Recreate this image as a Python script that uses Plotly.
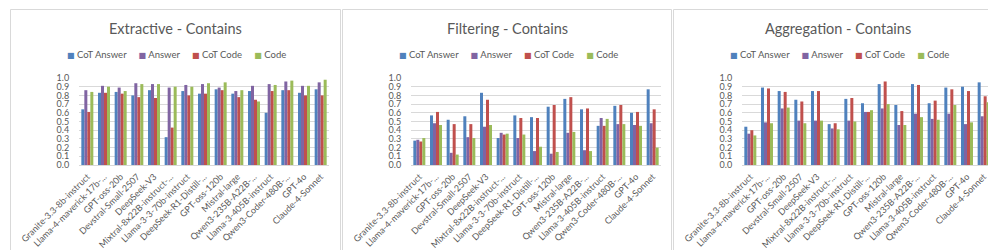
import plotly.graph_objects as go

categories = ["Granite-3.3-8b-instruct", "Llama-4-maverick-17b-...", "GPT-oss-20b",
              "Devstral-Small-2507", "DeepSeek-V3", "Mixtral-8x22B-instruct-...",
              "Llama-3-3-70b-instruct", "DeepSeek-R1-Distill-...", "GPT-oss-120b",
              "Mistral-large", "Qwen3-235B-A22B-...", "Llama-3-405B-instruct",
              "Qwen3-Coder-480B-...", "GPT-4o", "Claude-4-Sonnet"]

series_names = ["CoT Answer", "Answer", "CoT Code", "Code"]
series_colors = ["#4F81BD", "#8064A2", "#C0504D", "#9BBB59"]

panel_titles = ["Extractive - Contains", "Filtering - Contains", "Aggregation - Contains"]

extractive_cot_answer = [0.64, 0.83, 0.84, 0.80, 0.86, 0.32, 0.85, 0.82, 0.87, 0.82, 0.85, 0.60, 0.86, 0.83, 0.87]
extractive_answer     = [0.86, 0.91, 0.89, 0.94, 0.93, 0.89, 0.92, 0.93, 0.89, 0.85, 0.91, 0.93, 0.96, 0.91, 0.95]
extractive_cot_code   = [0.61, 0.83, 0.82, 0.78, 0.77, 0.43, 0.80, 0.82, 0.86, 0.78, 0.75, 0.85, 0.86, 0.80, 0.80]
extractive_code       = [0.84, 0.90, 0.85, 0.93, 0.93, 0.90, 0.90, 0.94, 0.95, 0.86, 0.73, 0.92, 0.97, 0.91, 0.98]

filtering_cot_answer = [0.28, 0.57, 0.52, 0.56, 0.83, 0.31, 0.57, 0.55, 0.67, 0.76, 0.64, 0.45, 0.68, 0.60, 0.87]
filtering_answer     = [0.29, 0.48, 0.14, 0.32, 0.44, 0.37, 0.31, 0.16, 0.13, 0.37, 0.17, 0.54, 0.47, 0.46, 0.48]
filtering_cot_code   = [0.27, 0.61, 0.47, 0.47, 0.75, 0.35, 0.54, 0.54, 0.69, 0.78, 0.65, 0.45, 0.69, 0.61, 0.64]
filtering_code       = [0.31, 0.46, 0.12, 0.31, 0.46, 0.36, 0.35, 0.21, 0.15, 0.38, 0.16, 0.53, 0.47, 0.45, 0.20]

aggregation_cot_answer = [0.44, 0.89, 0.85, 0.75, 0.85, 0.47, 0.76, 0.71, 0.93, 0.69, 0.93, 0.71, 0.89, 0.90, 0.95]
aggregation_answer     = [0.36, 0.49, 0.65, 0.51, 0.51, 0.42, 0.51, 0.61, 0.65, 0.46, 0.59, 0.53, 0.59, 0.47, 0.56]
aggregation_cot_code   = [0.40, 0.88, 0.84, 0.73, 0.85, 0.48, 0.77, 0.61, 0.96, 0.62, 0.92, 0.74, 0.87, 0.85, 0.79]
aggregation_code       = [0.34, 0.48, 0.66, 0.48, 0.51, 0.41, 0.50, 0.63, 0.70, 0.46, 0.55, 0.52, 0.69, 0.49, 0.72]

y_tick_values = [0.0, 0.1, 0.2, 0.3, 0.4, 0.5, 0.6, 0.7, 0.8, 0.9, 1.0]

panels = [
    [extractive_cot_answer, extractive_answer, extractive_cot_code, extractive_code],
    [filtering_cot_answer, filtering_answer, filtering_cot_code, filtering_code],
    [aggregation_cot_answer, aggregation_answer, aggregation_cot_code, aggregation_code],
]

W, H = 996, 250
FONT = "Lato"
GRAY = "#595959"

panel_boxes = [(2.5, 332.5), (334.5, 663.5), (665.5, 994.5)]
plot_x = [(71, 321), (403, 653), (734, 984)]
plot_top, plot_bottom = 70, 157

fig = go.Figure()
shapes = []
annotations = []

for p, (series_list, title) in enumerate(zip(panels, panel_titles)):
    ax = "" if p == 0 else str(p + 1)
    for name, color, vals in zip(series_names, series_colors, series_list):
        fig.add_trace(go.Bar(
            x=categories, y=vals, name=name, marker=dict(color=color, line=dict(width=0)),
            xaxis="x" + ax, yaxis="y" + ax, showlegend=False,
        ))
    x0, x1 = plot_x[p]
    fig.layout["xaxis" + ax] = dict(
        domain=[x0 / W, x1 / W], anchor="y" + ax, type="category",
        tickangle=-45, tickfont=dict(family=FONT, size=9, color=GRAY),
        showline=True, linecolor="#D9D9D9", linewidth=1, showgrid=False,
        ticks="outside", ticklen=2, tickcolor="rgba(0,0,0,0)", automargin=False,
    )
    fig.layout["yaxis" + ax] = dict(
        domain=[1 - plot_bottom / H, 1 - plot_top / H], anchor="x" + ax,
        range=[0, 1.0], tickvals=y_tick_values, tickformat=".1f",
        tickfont=dict(family=FONT, size=9, color=GRAY),
        showgrid=True, gridcolor="#D9D9D9", gridwidth=1, zeroline=False,
        showline=False, ticks="outside", ticklen=7, tickcolor="rgba(0,0,0,0)",
        automargin=False,
    )
    bx0, bx1 = panel_boxes[p]
    shapes.append(dict(type="rect", xref="paper", yref="paper",
                       x0=bx0 / W, x1=bx1 / W, y0=1 - 248.5 / H, y1=1 - 1.5 / H,
                       line=dict(color="#D9D9D9", width=1), fillcolor="rgba(0,0,0,0)"))
    cx = (bx0 + bx1) / 2
    annotations.append(dict(text=title, x=cx / W, y=1 - 21 / H, xref="paper", yref="paper",
                            xanchor="center", yanchor="middle", showarrow=False,
                            font=dict(family=FONT, size=14.5, color=GRAY)))
    legend_txt = "&nbsp;&nbsp;&nbsp;&nbsp;&nbsp;".join(
        f"<span style='color:{c};font-family:DejaVu Sans;font-size:8px'>■</span> {n}"
        for n, c in zip(series_names, series_colors))
    annotations.append(dict(text=legend_txt, x=(cx + 1) / W, y=1 - 47 / H, xref="paper", yref="paper",
                            xanchor="center", yanchor="middle", showarrow=False,
                            font=dict(family=FONT, size=9.5, color=GRAY)))

fig.update_layout(
    width=W, height=H, margin=dict(l=0, r=0, t=0, b=0),
    paper_bgcolor="white", plot_bgcolor="white",
    barmode="group", bargap=0.28, bargroupgap=0,
    shapes=shapes, annotations=annotations, showlegend=False,
)

fig.write_html("out.html")
